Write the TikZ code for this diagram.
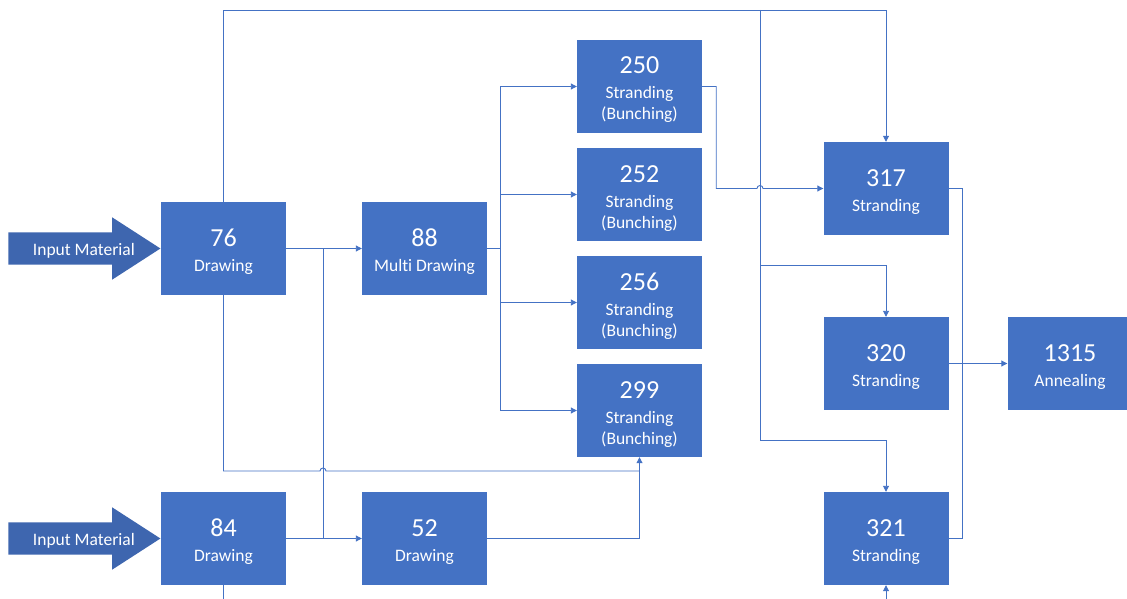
\documentclass[tikz,border=0pt]{standalone}
\usepackage{fontspec}
\setmainfont{Carlito}[Ligatures=NoCommon]
\usetikzlibrary{positioning, shapes, shapes.arrows, arrows.meta}
\definecolor{boxblue}{HTML}{4472C4}
\definecolor{arrowblue}{HTML}{3E66AF}
\tikzstyle{block} = [fill=boxblue, rectangle, text=white, align=center,
    minimum height=93pt, minimum width=125pt, inner sep=0pt,
    text depth=0pt, font=\fontsize{17.5}{21}\selectfont]
\tikzstyle{inarrow} = [single arrow, fill=arrowblue, text=white,
    font=\fontsize{17.5}{21}\selectfont, minimum height=152pt,
    text height=12pt, text depth=4pt, inner ysep=8pt, inner xsep=0pt,
    single arrow head extend=15pt, single arrow tip angle=65.7]
\tikzstyle{line} = [draw=boxblue, line width=0.9pt]
\tikzstyle{arr} = [line, -{Triangle[length=6pt, width=6pt]}]
\newcommand{\bnum}[1]{{\fontsize{26}{26}\selectfont\rule{0pt}{21pt}#1}\\[4pt]}
\newcommand{\intext}{\hspace*{12pt}\raisebox{-2.5pt}{Input Material}\hspace*{-12pt}}

\begin{document}
\begin{tikzpicture}[x=1pt, y=-1pt]
    \useasboundingbox (0,0) rectangle (1127,599);

        \node[block] (b76) at (223.5,248.5) {\bnum{76}Drawing};

        \node[
            block,
            right of=b76,
            node distance=201pt
        ](b88){\bnum{88}Multi Drawing};

        \node[
            block,
            below of=b76,
            node distance=290pt
        ](b84){\bnum{84}Drawing};

        \node[
            block,
            right of=b84,
            node distance=201pt
        ](b52){\bnum{52}Drawing};

        \node[block] (b250) at (639.5,86.5) {\bnum{250}Stranding\\(Bunching)};

        \node[
            block,
            below of=b250,
            node distance=108pt
        ](b252){\bnum{252}Stranding\\(Bunching)};

        \node[
            block,
            below of=b252,
            node distance=108pt
        ](b256){\bnum{256}Stranding\\(Bunching)};

        \node[
            block,
            below of=b256,
            node distance=108pt
        ](b299){\bnum{299}Stranding\\(Bunching)};

        \node[block] (b317) at (886,188.5) {\bnum{317}Stranding};

        \node[
            block,
            below of=b317,
            node distance=175pt
        ](b320){\bnum{320}Stranding};

        \node[
            block,
            below of=b320,
            node distance=175pt
        ](b321){\bnum{321}Stranding};

        \node[
            block,
            right of=b320,
            node distance=184pt
        ](b1315){\bnum{1315}Annealing};

        \node[inarrow, left=0pt of b76](in76){\intext};
        \node[inarrow, left=0pt of b84](in84){\intext};

        \coordinate (c-top) at (886,10);
        \coordinate (c-split) at (760,10);
        \coordinate (c-320) at (760,265);
        \coordinate (c-321) at (760,440);
        \coordinate (c-j1) at (323,248.5);
        \coordinate (c-j2) at (323,538.5);
        \coordinate (c-t88) at (500,248.5);
        \coordinate (c-low) at (639.5,471);
        \coordinate (c-r1) at (962,188.5);
        \coordinate (c-b84) at (223.5,599);
        \coordinate (c-b321) at (886,599);

        \draw[arr] (b76.north) |- (c-top) -- (b317.north);
        \draw[line] (c-split) -- (c-321);
        \draw[arr] (c-320) -| (b320.north);
        \draw[arr] (c-321) -| (b321.north);

        \draw[arr] (b76) -- (b88);
        \draw[arr] (b84) -- (b52);
        \draw[line] (c-j1) -- (c-j2);

        \draw[line] (b88) -- (c-t88);
        \foreach \b in {b250,b252,b256,b299}
            \draw[arr] (c-t88) |- (\b);

        \draw[arr] (b250.east) -- ++(14,0)
            |- ([xshift=-3pt]c-split |- b317)
            arc[start angle=180, end angle=0, radius=3pt] -- (b317.west);

        \draw[line] (b76.south) |- ([xshift=-3pt]c-j1 |- c-low)
            arc[start angle=180, end angle=0, radius=3pt] -- (c-low);
        \draw[arr] (b52) -| (b299);

        \draw[line] (b317) -- (c-r1) |- (b321);
        \draw[arr] (b320) -- (b1315);

        \draw[line] (b84) -- (c-b84);
        \draw[arr] (c-b321) -- (b321);
    \end{tikzpicture}
\end{document}
